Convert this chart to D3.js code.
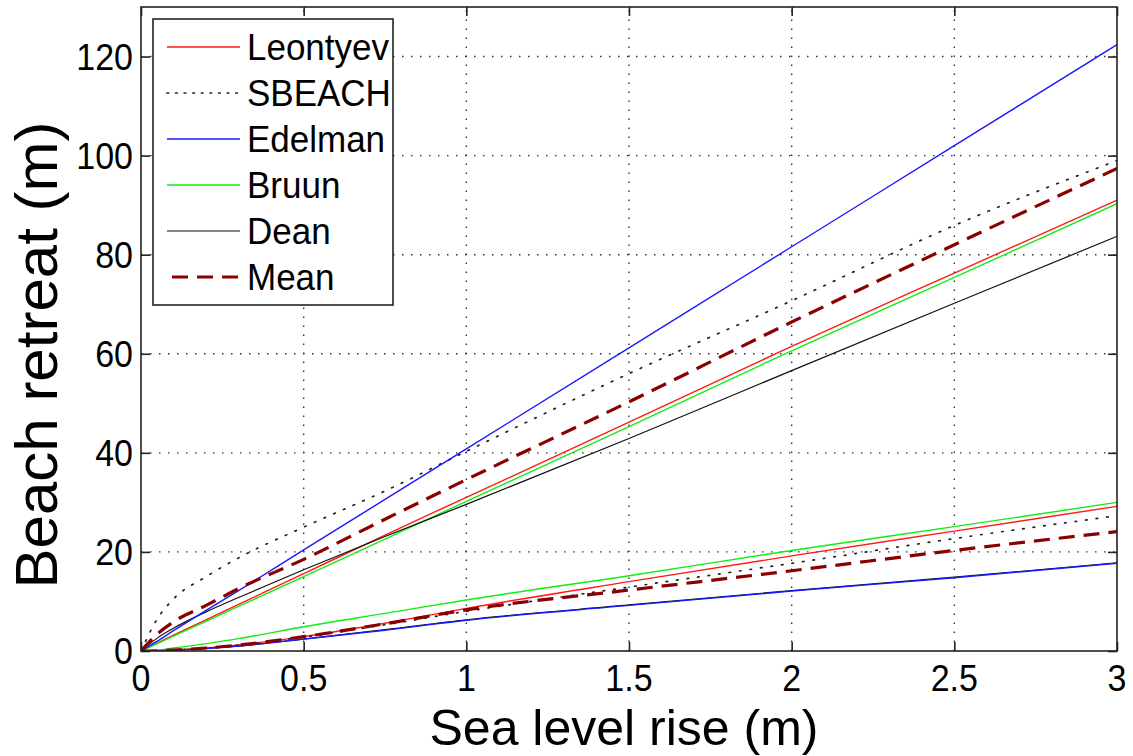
<!DOCTYPE html>
<html>
<head>
<meta charset="utf-8">
<script src="https://cdn.jsdelivr.net/npm/d3@7"></script>
<style>
  html, body { margin: 0; padding: 0; background: #fff; }
  svg text { font-family: "Liberation Sans", Arial, Helvetica, sans-serif; fill: #000; }
</style>
</head>
<body>
<svg id="chart" width="1133" height="756"></svg>
<script>
// ---------- data ----------
const seaLevelRise = [0, 0.05, 0.1, 0.2, 0.3, 0.5, 0.75, 1, 1.5, 2, 2.5, 3];

// upper group of curves
const leontyevUpper = [0, 1.6, 3.2, 6.3, 9.4, 15.6, 23.4, 31.0, 46.2, 61.5, 76.3, 91.0];
const sbeachUpper   = [0, 6.5, 10.5, 15.0, 18.8, 25.0, 32.3, 40.3, 56.0, 70.7, 85.9, 99.0];
const edelmanUpper  = [0, 2.0, 4.1, 8.2, 12.2, 20.4, 30.6, 40.8, 61.2, 81.6, 102.0, 122.4];
const bruunUpper    = [0, 1.5, 3.0, 6.0, 9.0, 15.0, 22.6, 30.2, 45.3, 60.6, 75.4, 90.3];
const deanUpper     = [0, 2.6, 4.6, 7.9, 10.8, 16.4, 23.1, 29.6, 42.9, 56.6, 70.2, 83.7];
const meanUpper     = [0, 3.4, 5.9, 9.2, 12.6, 18.5, 26.6, 34.6, 50.3, 66.4, 82.0, 97.4];

// lower group of curves
const leontyevLower = [0, 0.05, 0.2, 0.6, 1.2, 2.9, 5.6, 8.6, 14.0, 19.2, 24.2, 29.2];
const sbeachLower   = [0, 0.05, 0.2, 0.6, 1.2, 2.8, 5.3, 8.0, 12.9, 17.7, 22.7, 27.3];
const edelmanLower  = [0, 0.05, 0.15, 0.5, 1.0, 2.4, 4.2, 6.2, 9.2, 12.1, 14.8, 17.7];
const bruunLower    = [0, 0.2, 0.6, 1.5, 2.5, 4.9, 7.6, 10.3, 15.2, 20.3, 25.1, 30.0];
const deanLower     = [0, 0.05, 0.15, 0.5, 1.0, 2.4, 4.3, 6.3, 9.3, 12.2, 14.9, 17.8];
const meanLower     = [0, 0.05, 0.2, 0.6, 1.2, 2.9, 5.5, 8.3, 12.3, 16.2, 20.3, 24.1];

const seriesNames = ["Leontyev", "SBEACH", "Edelman", "Bruun", "Dean", "Mean"];
const xTicks = [0, 0.5, 1, 1.5, 2, 2.5, 3];
const xTickLabels = ["0", "0.5", "1", "1.5", "2", "2.5", "3"];
const yTicks = [0, 20, 40, 60, 80, 100, 120];
const yTickLabels = ["0", "20", "40", "60", "80", "100", "120"];
const xTitle = "Sea level rise (m)";
const yTitle = "Beach retreat (m)";

// ---------- styles ----------
const styles = {
  Leontyev: { color: "#ff1a1a", width: 1.4, dash: null },
  SBEACH:   { color: "#222222", width: 1.7, dash: "1.6,9", cap: "round" },
  Edelman:  { color: "#1a1aff", width: 1.4, dash: null },
  Bruun:    { color: "#10ee10", width: 1.4, dash: null },
  Dean:     { color: "#111111", width: 1.2, dash: null },
  Mean:     { color: "#8b0000", width: 3.2, dash: "16,9" }
};

const plotData = [
  { name: "Leontyev", values: leontyevUpper }, { name: "Leontyev", values: leontyevLower },
  { name: "SBEACH", values: sbeachUpper },     { name: "SBEACH", values: sbeachLower },
  { name: "Bruun", values: bruunUpper },       { name: "Bruun", values: bruunLower },
  { name: "Dean", values: deanUpper },         { name: "Dean", values: deanLower },
  { name: "Edelman", values: edelmanUpper },   { name: "Edelman", values: edelmanLower },
  { name: "Mean", values: meanUpper },         { name: "Mean", values: meanLower }
];

// ---------- layout ----------
const svg = d3.select("#chart");
const L = 141, R = 1117, T = 7, B = 651;
const x = d3.scaleLinear().domain([0, 3]).range([L, R]);
const y = d3.scaleLinear().domain([0, 130]).range([B, T]);
const stretch = 1.1; // reference text is slightly taller than wide

// grid
const grid = svg.append("g");
grid.selectAll(".gx").data(xTicks.slice(1, -1)).enter().append("line")
  .attr("x1", d => x(d)).attr("x2", d => x(d)).attr("y1", B).attr("y2", T)
  .attr("stroke", "#333").attr("stroke-width", 1.4).attr("stroke-dasharray", "1.5,7.5");
grid.selectAll(".gy").data(yTicks.slice(1)).enter().append("line")
  .attr("y1", d => y(d)).attr("y2", d => y(d)).attr("x1", L).attr("x2", R)
  .attr("stroke", "#333").attr("stroke-width", 1.4).attr("stroke-dasharray", "1.5,7.5");

// lines
svg.append("clipPath").attr("id", "clip").append("rect")
  .attr("x", L).attr("y", T).attr("width", R - L).attr("height", B - T);
const line = d3.line().x((d, i) => x(seaLevelRise[i])).y(d => y(d)).curve(d3.curveMonotoneX);
const lines = svg.append("g").attr("clip-path", "url(#clip)");
plotData.forEach(s => {
  const st = styles[s.name];
  lines.append("path").datum(s.values)
    .attr("d", line).attr("fill", "none")
    .attr("stroke", st.color).attr("stroke-width", st.width)
    .attr("stroke-dasharray", st.dash).attr("stroke-linecap", st.cap || "butt")
    .attr("stroke-linejoin", "round");
});

// frame and ticks
const axisColor = "#222";
svg.append("rect").attr("x", L).attr("y", T).attr("width", R - L).attr("height", B - T)
  .attr("fill", "none").attr("stroke", axisColor).attr("stroke-width", 1.6);

const axB = d3.axisBottom(x).tickValues(xTicks).tickSize(-9).tickFormat("");
const axT = d3.axisTop(x).tickValues(xTicks).tickSize(-9).tickFormat("");
const axL = d3.axisLeft(y).tickValues(yTicks).tickSize(-9).tickFormat("");
const axR = d3.axisRight(y).tickValues(yTicks).tickSize(-9).tickFormat("");
function styleAxis(g) {
  g.select(".domain").remove();
  g.selectAll(".tick line").attr("stroke", axisColor).attr("stroke-width", 1.6);
}
svg.append("g").attr("transform", `translate(0,${B})`).call(axB).call(styleAxis);
svg.append("g").attr("transform", `translate(0,${T})`).call(axT).call(styleAxis);
svg.append("g").attr("transform", `translate(${L},0)`).call(axL).call(styleAxis);
svg.append("g").attr("transform", `translate(${R},0)`).call(axR).call(styleAxis);

// tick labels (slightly stretched vertically like the reference)
svg.append("g").selectAll("text").data(xTicks).enter().append("text")
  .attr("transform", d => `translate(${x(d)},691) scale(1,${stretch})`)
  .attr("text-anchor", "middle").attr("font-size", 34)
  .text((d, i) => xTickLabels[i]);
svg.append("g").selectAll("text").data(yTicks).enter().append("text")
  .attr("transform", d => `translate(133,${y(d)}) scale(1,${stretch})`)
  .attr("text-anchor", "end").attr("dy", "0.36em").attr("font-size", 34)
  .text((d, i) => yTickLabels[i]);

// axis titles
svg.append("text").attr("x", 624).attr("y", 745)
  .attr("text-anchor", "middle").attr("font-size", 50).text(xTitle);
svg.append("text").attr("transform", "translate(57,355) rotate(-90)")
  .attr("text-anchor", "middle").attr("font-size", 60).text(yTitle);

// legend
const lg = svg.append("g");
lg.append("rect").attr("x", 153).attr("y", 19).attr("width", 240).attr("height", 286)
  .attr("fill", "#fff").attr("stroke", axisColor).attr("stroke-width", 1.6);
const rowY = d3.scalePoint().domain(seriesNames).range([47, 277]);
seriesNames.forEach(n => {
  const st = styles[n];
  lg.append("line").attr("x1", 167).attr("x2", 240).attr("y1", rowY(n)).attr("y2", rowY(n))
    .attr("stroke", st.color).attr("stroke-width", st.width)
    .attr("stroke-dasharray", n === "Mean" ? "16,9" : (n === "SBEACH" ? "1.6,7" : null))
    .attr("stroke-dashoffset", n === "Mean" ? -5 : 0)
    .attr("stroke-linecap", st.cap || "butt");
  lg.append("text").attr("transform", `translate(247,${rowY(n)}) scale(1,1.06)`)
    .attr("dy", "0.36em").attr("font-size", 35).text(n);
});
</script>
</body>
</html>
